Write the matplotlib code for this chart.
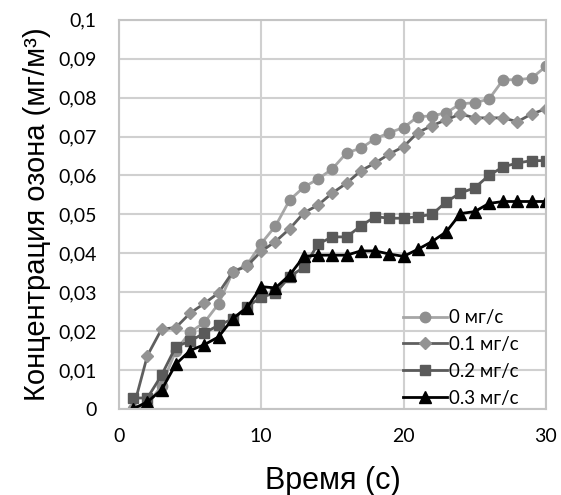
import matplotlib
matplotlib.use("Agg")
import matplotlib.pyplot as plt
from matplotlib.ticker import FuncFormatter

# time, s
t = list(range(1, 31))

# ozone concentration, mg/m3, for each ozone supply rate
c0 = [0.0, 0.001, 0.006, 0.015, 0.0197, 0.0222, 0.027, 0.0352, 0.037, 0.0425,
      0.047, 0.0537, 0.057, 0.0591, 0.0617, 0.0658, 0.067, 0.0694, 0.071, 0.0723,
      0.0751, 0.0753, 0.0761, 0.0784, 0.0787, 0.0796, 0.0846, 0.0846, 0.085, 0.088]
c1 = [0.0, 0.0137, 0.0205, 0.0209, 0.0246, 0.0271, 0.0298, 0.0352, 0.0367, 0.0405,
      0.043, 0.0463, 0.0504, 0.0524, 0.0555, 0.058, 0.0612, 0.0632, 0.0655, 0.0674,
      0.071, 0.0728, 0.0743, 0.0758, 0.0748, 0.0748, 0.0748, 0.0738, 0.0758, 0.0771]
c2 = [0.0028, 0.0028, 0.0087, 0.016, 0.0174, 0.0195, 0.0215, 0.0231, 0.0262, 0.0287,
      0.0298, 0.034, 0.0364, 0.0424, 0.0442, 0.0442, 0.047, 0.0494, 0.049, 0.049,
      0.0494, 0.05, 0.0532, 0.0555, 0.0568, 0.06, 0.0622, 0.0632, 0.0638, 0.0638]
c3 = [0.0, 0.0018, 0.0049, 0.0115, 0.015, 0.0165, 0.0185, 0.0232, 0.026, 0.0314,
      0.0311, 0.0344, 0.0392, 0.0395, 0.0395, 0.0395, 0.0406, 0.0406, 0.0398, 0.0392,
      0.041, 0.043, 0.0455, 0.0502, 0.0507, 0.0528, 0.0533, 0.0533, 0.0533, 0.0533]
labels = ["0 мг/с", "0.1 мг/с", "0.2 мг/с", "0.3 мг/с"]

small_font = ["Lato", "Open Sans", "DejaVu Sans"]

fig, ax = plt.subplots(figsize=(5.61, 4.95), dpi=100)
fig.subplots_adjust(left=0.212, right=0.973, top=0.96, bottom=0.174)

ax.plot(t, c0, color="#a6a6a6", marker="o", ms=7.5, mfc="#8f8f8f", mec="#8f8f8f", lw=2, label=labels[0])
ax.plot(t, c1, color="#5f5f5f", marker="D", ms=6.5, mfc="#939393", mec="#939393", lw=2, label=labels[1])
ax.plot(t, c2, color="#5a5a5a", marker="s", ms=7.2, mfc="#5a5a5a", mec="#5a5a5a", lw=2, label=labels[2])
ax.plot(t, c3, color="black", marker="^", ms=8, lw=2, label=labels[3])

ax.set_xlim(0, 30)
ax.set_ylim(0, 0.1)
ax.set_xticks([0, 10, 20, 30])
ax.set_yticks([i / 100 for i in range(11)])
ax.yaxis.set_major_formatter(FuncFormatter(lambda v, p: ("%g" % round(v, 2)).replace(".", ",")))
ax.grid(True, color="#d0d0d0", lw=1.5)
ax.set_axisbelow(True)
for s in ax.spines.values():
    s.set_color("#c4c4c4")
    s.set_linewidth(1.5)
ax.tick_params(length=0, labelsize=14)
ax.tick_params(axis="y", pad=16)
ax.tick_params(axis="x", pad=14)
for lab in ax.get_xticklabels() + ax.get_yticklabels():
    lab.set_family(small_font)

ax.set_xlabel("Время (с)", fontsize=22, family="Liberation Sans", labelpad=15)
ax.set_ylabel("Концентрация озона (мг/м³)", fontsize=21, family="Liberation Sans", labelpad=5)

ax.legend(loc="lower left", bbox_to_anchor=(0.665, 0.005), frameon=False,
          prop={"family": small_font, "size": 13.5}, handlelength=2.35, handletextpad=0.1,
          labelspacing=0.53, borderpad=0, borderaxespad=0)

fig.savefig("out.png", dpi=100)
